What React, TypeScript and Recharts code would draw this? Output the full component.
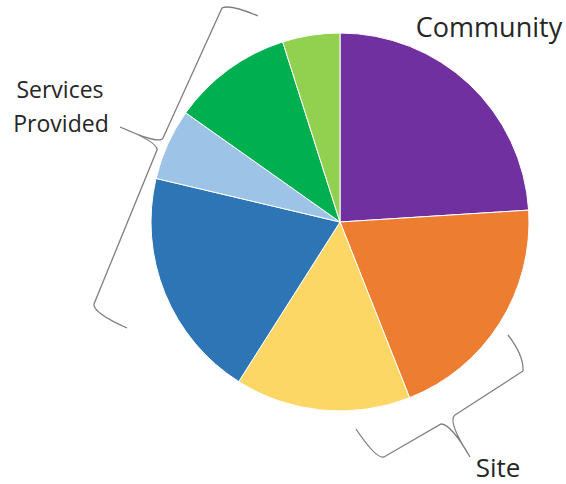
import { PieChart, Pie, Cell, Customized } from 'recharts'

const segments = ['Community A', 'Site A', 'Site B', 'Services A', 'Services B', 'Services C', 'Services D']
const shares = [24, 20, 15, 19.7, 6.1, 10.3, 4.9]
const colors = ['#7030A0', '#ED7D31', '#FCD766', '#2E75B6', '#9DC3E6', '#00B050', '#92D050']

const data = segments.map((name, i) => ({ name, value: shares[i] }))

const labelFont = "'Open Sans', 'Noto Sans', sans-serif"

function Annotations() {
  return (
    <g>
      <path
        d="M258,16 Q230,4 222,8 L163,138 Q160,145 120,127 M120,127 Q158,142 157,150 L94,304 Q93,313 127,328"
        fill="none"
        stroke="#7f7f7f"
        strokeWidth={1.3}
      />
      <path
        d="M508,335 Q524,356 523,371 L455,415 Q447,421 470,457 M470,457 Q451,424 441,424 L384,457 Q376,459 356,429"
        fill="none"
        stroke="#7f7f7f"
        strokeWidth={1.3}
      />
      <text x={60} y={98} textAnchor="middle" fontSize={23} fill="#262626" fontFamily={labelFont}>
        Services
      </text>
      <text x={61} y={132} textAnchor="middle" fontSize={23} fill="#262626" fontFamily={labelFont}>
        Provided
      </text>
      <text x={489} y={37} textAnchor="middle" fontSize={27} fill="#262626" fontFamily={labelFont}>
        Community
      </text>
      <text x={498} y={477} textAnchor="middle" fontSize={26} fill="#262626" fontFamily={labelFont}>
        Site
      </text>
    </g>
  )
}

export default function App() {
  return (
    <div style={{ position: 'absolute', left: 0, top: 0, width: 566, height: 484, background: '#fff' }}>
      <PieChart width={566} height={484} margin={{ top: 0, right: 0, bottom: 0, left: 0 }}>
        <Pie
          data={data}
          dataKey="value"
          nameKey="name"
          cx={340}
          cy={222}
          outerRadius={189}
          startAngle={90}
          endAngle={-270}
          stroke="#ffffff"
          strokeWidth={1}
          isAnimationActive={false}
        >
          {data.map((d, i) => (
            <Cell key={d.name} fill={colors[i]} />
          ))}
        </Pie>
        <Customized component={Annotations} />
      </PieChart>
    </div>
  )
}
